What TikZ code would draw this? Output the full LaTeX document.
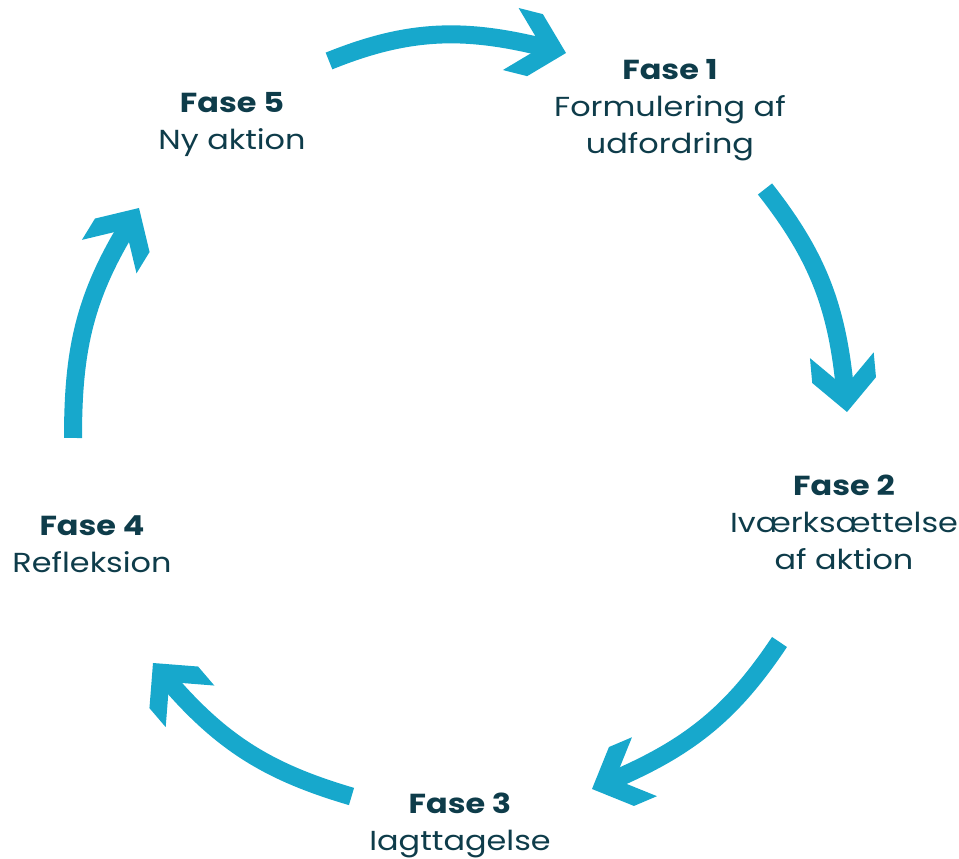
\documentclass[tikz,border=0pt]{standalone}
\usepackage{fontspec}
\setmainfont{Poppins}[FakeStretch=1.16]
\definecolor{arrowc}{HTML}{17A8CC}
\definecolor{textc}{HTML}{0E3C4A}
\tikzset{
  shaft/.style={draw=arrowc, line width=18pt, line cap=butt},
  chev/.pic={\fill[arrowc] (0,0) -- (-32,32) -- (-57,32) -- (-25,0) -- (-57,-32) -- (-32,-32) -- cycle;},
  phase/.style={anchor=north, inner sep=0pt, align=center, text=textc,
    font=\fontsize{27.5}{37}\selectfont}
}
\begin{document}
\begin{tikzpicture}[x=1pt,y=1pt]
\useasboundingbox (0,0) rectangle (959,859);
% phase labels
\node[phase] (f1) at (670,800) {\textbf{Fase 1}\\Formulering af\\udfordring};
\node[phase] (f2) at (844,384) {\textbf{Fase 2}\\Iværksættelse\\af aktion};
\node[phase] (f3) at (460,66) {\textbf{Fase 3}\\Iagttagelse};
\node[phase] (f4) at (92,343) {\textbf{Fase 4}\\Refleksion};
\node[phase] (f5) at (232,767) {\textbf{Fase 5}\\Ny aktion};
% arrow coordinates
\coordinate (a1s) at (329,798);   \coordinate (a1e) at (546.6,810.9); \coordinate (a1t) at (566,806);
\coordinate (a2s) at (765,670);   \coordinate (a2e) at (845.2,466.9); \coordinate (a2t) at (847,447);
\coordinate (a3s) at (779.5,217); \coordinate (a3e) at (610.4,77.8);  \coordinate (a3t) at (592,70);
\coordinate (a4s) at (351.5,62.5);\coordinate (a4e) at (166,180.8);   \coordinate (a4t) at (153,196);
\coordinate (a5s) at (73,421);    \coordinate (a5e) at (128.6,633.9); \coordinate (a5t) at (139,651);
% shafts
\draw[shaft] (a1s) to[out=22,in=165.8] (a1e);
\draw[shaft] (a2s) to[out=-51.8,in=95.2] (a2e);
\draw[shaft] (a3s) to[out=236.3,in=23] (a3e);
\draw[shaft] (a4s) to[out=163.6,in=310.5] (a4e);
\draw[shaft] (a5s) to[out=90,in=238.5] (a5e);
% heads
\pic[rotate=-14.2] at (a1t) {chev};
\pic[rotate=-84.8] at (a2t) {chev};
\pic[rotate=203] at (a3t) {chev};
\pic[rotate=130.5] at (a4t) {chev};
\pic[rotate=58.5] at (a5t) {chev};
\end{tikzpicture}
\end{document}
